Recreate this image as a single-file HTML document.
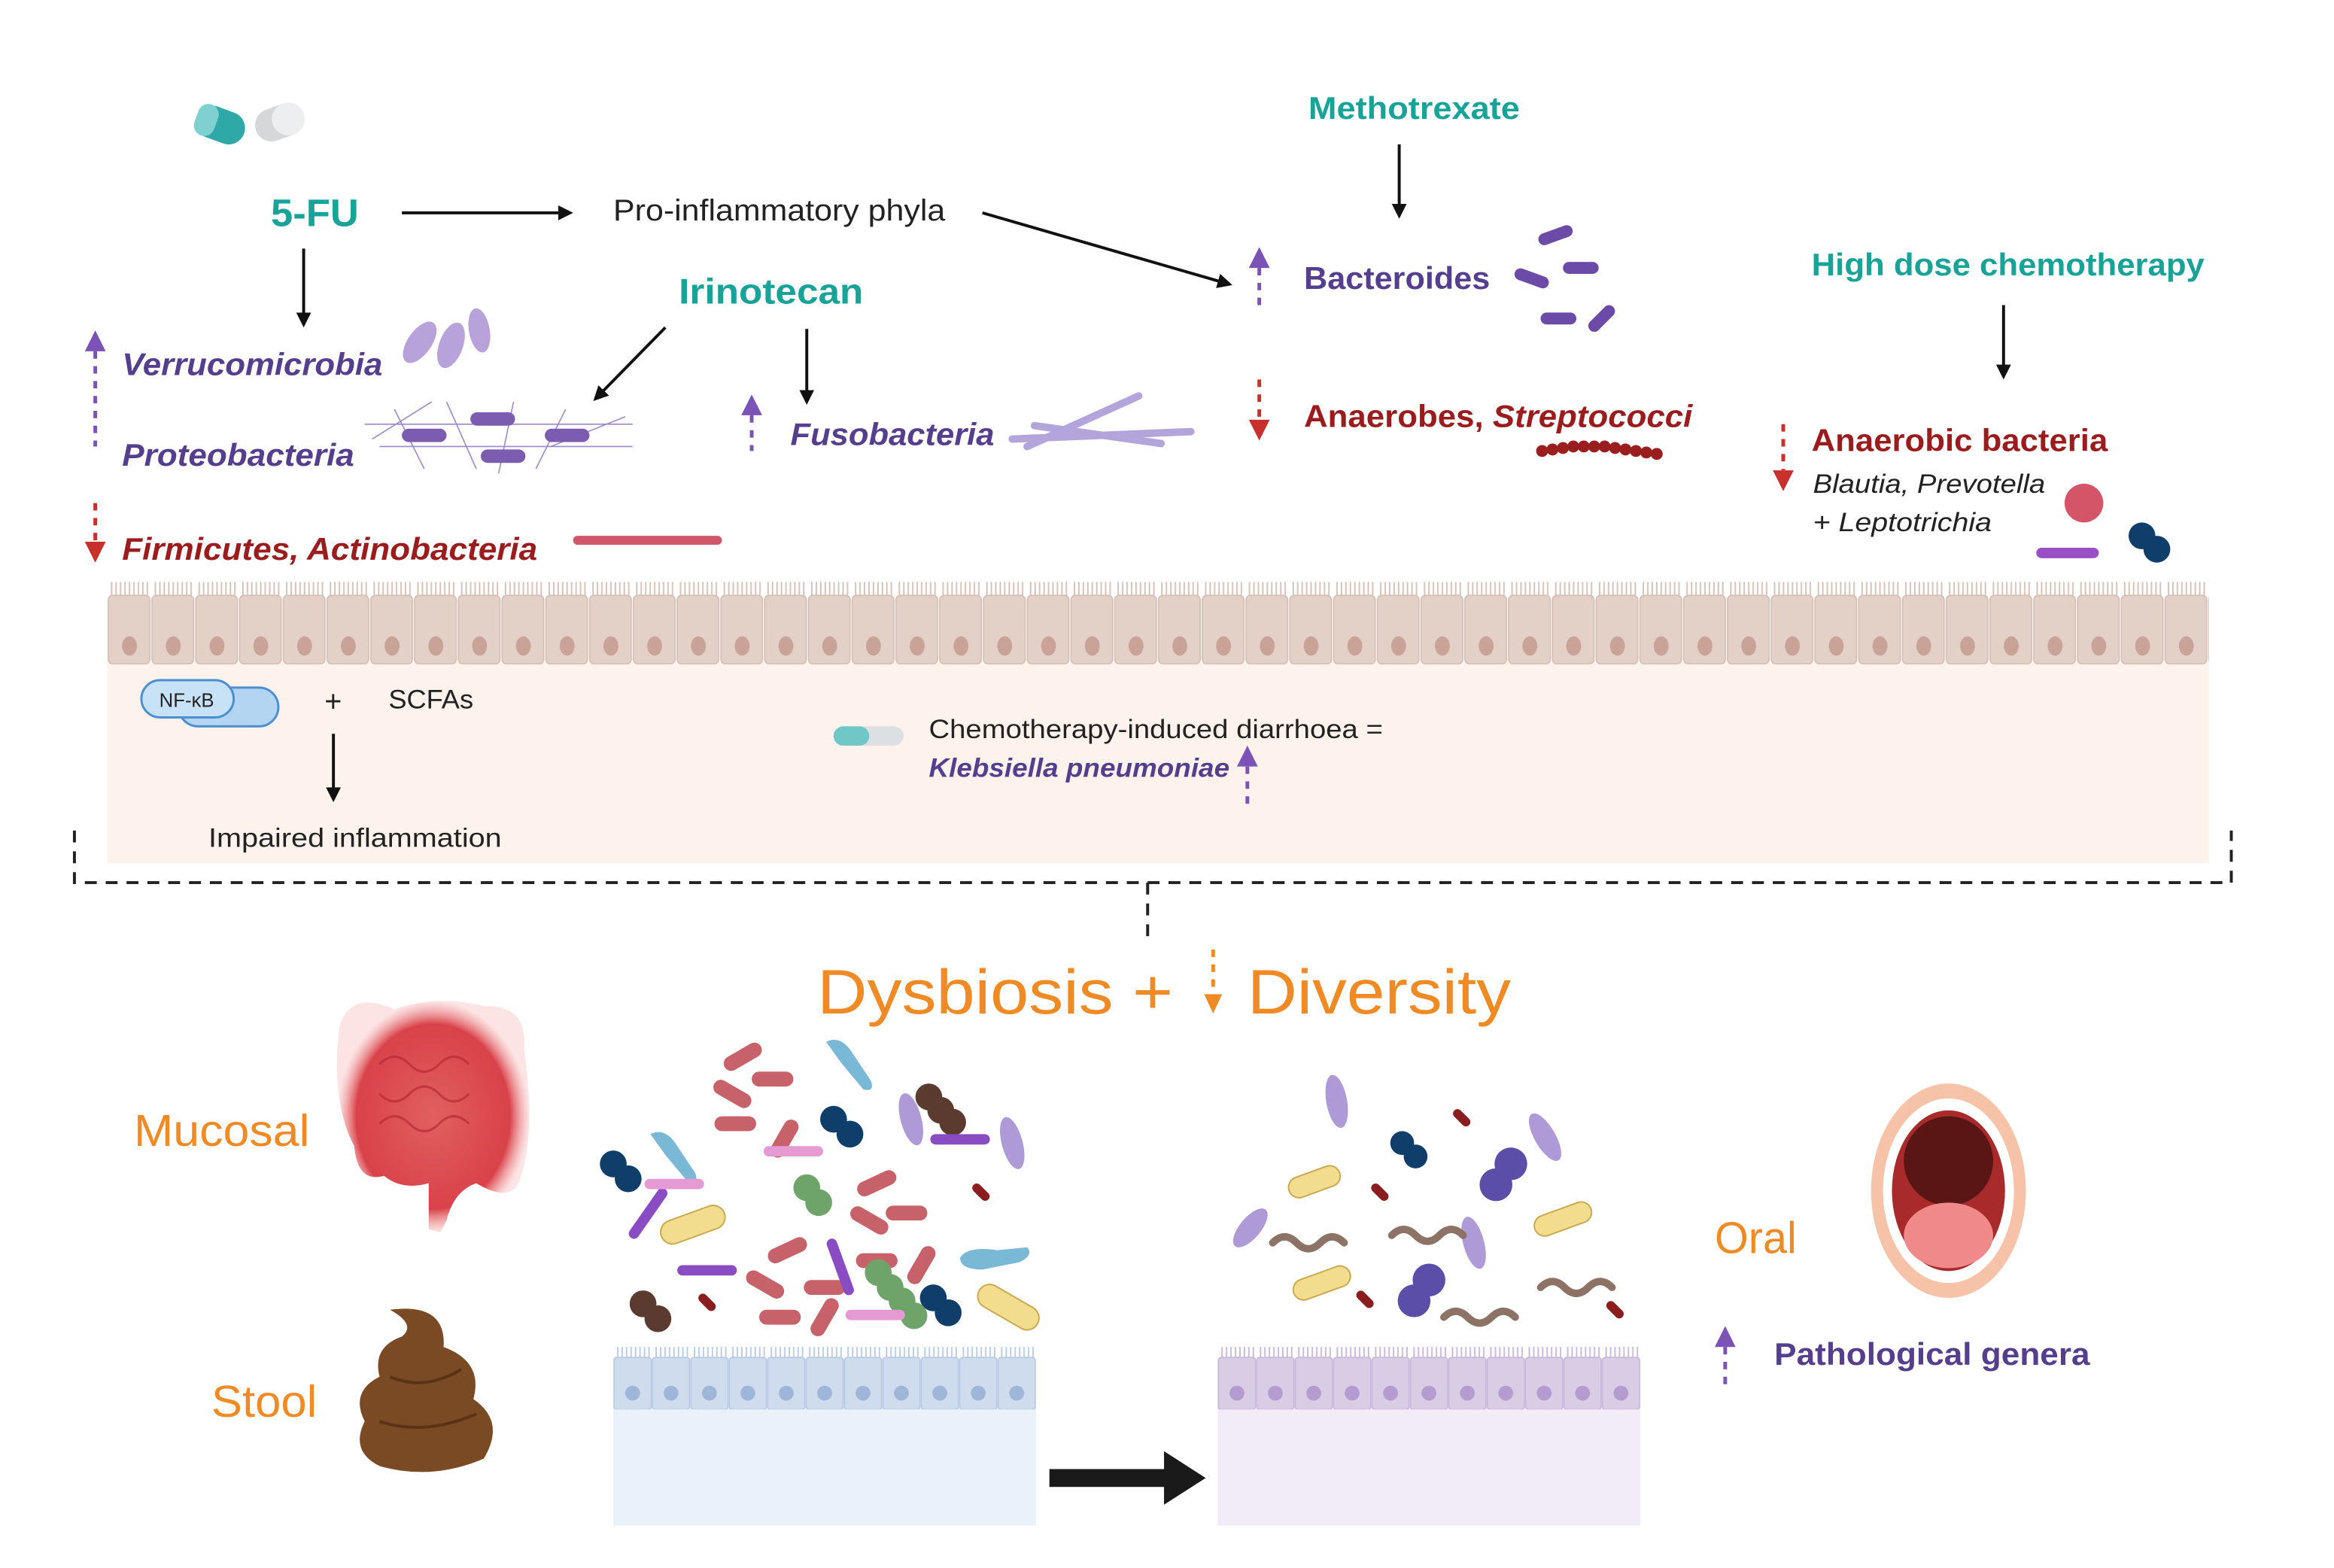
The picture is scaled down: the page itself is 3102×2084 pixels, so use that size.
<!DOCTYPE html>
<html><head><meta charset="utf-8"><style>
html,body{margin:0;padding:0;background:#fff;}
svg{display:block;}
text{font-family:"Liberation Sans",sans-serif;}
</style></head><body>
<svg width="3102" height="2084" viewBox="0 0 1568 1053.5" preserveAspectRatio="none" xmlns="http://www.w3.org/2000/svg">
<defs>
<marker id="ah" markerWidth="10" markerHeight="10" refX="8" refY="5" orient="auto" markerUnits="userSpaceOnUse"><path d="M0,0 L10,5 L0,10 z" fill="#111"/></marker>
<pattern id="cells" x="72" y="390" width="29.4" height="57" patternUnits="userSpaceOnUse">
<rect x="0.7" y="10" width="28" height="46" rx="3" fill="#e3d1c8" stroke="#d4bcb1" stroke-width="0.8"/>
<path d="M3,1 v9 M6,1 v9 M9,1 v9 M12,1 v9 M15,1 v9 M18,1 v9 M21,1 v9 M24,1 v9 M27,1 v9" stroke="#d7c2b8" stroke-width="1"/>
<ellipse cx="15" cy="44" rx="5" ry="6.5" fill="#c9a398"/>
</pattern>
<pattern id="cellsB" x="412" y="905" width="25.8" height="42" patternUnits="userSpaceOnUse">
<rect x="0.5" y="7" width="25" height="35" rx="2" fill="#cfdcee" stroke="#b6c8e2" stroke-width="0.8"/>
<path d="M3,0 v7 M6,0 v7 M9,0 v7 M12,0 v7 M15,0 v7 M18,0 v7 M21,0 v7 M24,0 v7" stroke="#bccde4" stroke-width="1"/>
<circle cx="13" cy="31" r="5" fill="#9fb6d8"/>
</pattern>
<pattern id="cellsP" x="818" y="905" width="25.8" height="42" patternUnits="userSpaceOnUse">
<rect x="0.5" y="7" width="25" height="35" rx="2" fill="#d9cde6" stroke="#c6b5da" stroke-width="0.8"/>
<path d="M3,0 v7 M6,0 v7 M9,0 v7 M12,0 v7 M15,0 v7 M18,0 v7 M21,0 v7 M24,0 v7" stroke="#cbbadd" stroke-width="1"/>
<circle cx="13" cy="31" r="5" fill="#b49cd0"/>
</pattern>
<radialGradient id="gutg"><stop offset="0" stop-color="#e06060"/><stop offset="0.8" stop-color="#d9424a"/><stop offset="1" stop-color="#f5a5a5" stop-opacity="0.3"/></radialGradient>
</defs>

<rect x="72" y="445" width="1412" height="135" fill="#fdf3ec"/>
<rect x="72" y="390" width="1412" height="57" fill="url(#cells)"/>

<path d="M50,558 V593 H1499 V558" fill="none" stroke="#222" stroke-width="2" stroke-dasharray="8,6"/>
<path d="M771,593 V632" stroke="#222" stroke-width="2" stroke-dasharray="8,6"/>

<g transform="translate(148,84) rotate(20)"><rect x="-17" y="-11" width="34" height="22" rx="11" fill="#2fa9a8"/><rect x="-17" y="-11" width="14" height="22" rx="7" fill="#7fd1cf"/></g>
<g transform="translate(188,82) rotate(-20)"><rect x="-17" y="-11" width="34" height="22" rx="11" fill="#d5d7d9"/><rect x="-5" y="-11" width="22" height="22" rx="11" fill="#eceef0"/></g>

<text x="182" y="152" font-size="26" font-weight="bold" fill="#17a398" textLength="59" lengthAdjust="spacingAndGlyphs">5-FU</text>
<line x1="270" y1="143" x2="383" y2="143" stroke="#111" stroke-width="2" marker-end="url(#ah)"/>
<text x="412" y="148" font-size="20" fill="#222" textLength="223" lengthAdjust="spacingAndGlyphs">Pro-inflammatory phyla</text>
<line x1="660" y1="143" x2="826" y2="191" stroke="#111" stroke-width="2" marker-end="url(#ah)"/>
<text x="879" y="80" font-size="21" font-weight="bold" fill="#17a398" textLength="142" lengthAdjust="spacingAndGlyphs">Methotrexate</text>
<line x1="940" y1="97" x2="940" y2="145" stroke="#111" stroke-width="2" marker-end="url(#ah)"/>
<text x="876" y="194" font-size="21" font-weight="bold" fill="#553e8e" textLength="125" lengthAdjust="spacingAndGlyphs">Bacteroides</text>
<text x="1217" y="185" font-size="21" font-weight="bold" fill="#17a398" textLength="264" lengthAdjust="spacingAndGlyphs">High dose chemotherapy</text>
<line x1="1346" y1="205" x2="1346" y2="253" stroke="#111" stroke-width="2" marker-end="url(#ah)"/>
<text x="1217" y="303" font-size="21" font-weight="bold" fill="#9b1c1c" textLength="199" lengthAdjust="spacingAndGlyphs">Anaerobic bacteria</text>
<text x="1218" y="331" font-size="18" font-style="italic" fill="#222" textLength="156" lengthAdjust="spacingAndGlyphs">Blautia, Prevotella</text>
<text x="1218" y="357" font-size="18" font-style="italic" fill="#222" textLength="120" lengthAdjust="spacingAndGlyphs">+ Leptotrichia</text>
<text x="456" y="204" font-size="24" font-weight="bold" fill="#17a398" textLength="124" lengthAdjust="spacingAndGlyphs">Irinotecan</text>
<line x1="447" y1="220" x2="400" y2="268" stroke="#111" stroke-width="2" marker-end="url(#ah)"/>
<line x1="542" y1="221" x2="542" y2="270" stroke="#111" stroke-width="2" marker-end="url(#ah)"/>
<text x="531" y="299" font-size="21" font-weight="bold" font-style="italic" fill="#553e8e" textLength="137" lengthAdjust="spacingAndGlyphs">Fusobacteria</text>
<text x="876" y="287" font-size="21" font-weight="bold" fill="#9b1c1c" textLength="261" lengthAdjust="spacingAndGlyphs">Anaerobes, <tspan font-style="italic">Streptococci</tspan></text>
<line x1="204" y1="167" x2="204" y2="218" stroke="#111" stroke-width="2" marker-end="url(#ah)"/>
<text x="82" y="252" font-size="21" font-weight="bold" font-style="italic" fill="#553e8e" textLength="175" lengthAdjust="spacingAndGlyphs">Verrucomicrobia</text>
<text x="82" y="313" font-size="21" font-weight="bold" font-style="italic" fill="#553e8e" textLength="156" lengthAdjust="spacingAndGlyphs">Proteobacteria</text>
<text x="82" y="376" font-size="21" font-weight="bold" font-style="italic" fill="#9b1c1c" textLength="279" lengthAdjust="spacingAndGlyphs">Firmicutes, Actinobacteria</text>

<g stroke-width="2.5" stroke-dasharray="5,5">
<line x1="64" y1="236" x2="64" y2="300" stroke="#7b52b5"/>
<line x1="64" y1="338" x2="64" y2="364" stroke="#c8302c"/>
<line x1="846" y1="180" x2="846" y2="205" stroke="#7b52b5"/>
<line x1="505" y1="279" x2="505" y2="303" stroke="#7b52b5"/>
<line x1="846" y1="255" x2="846" y2="282" stroke="#c8302c"/>
<line x1="1198" y1="285" x2="1198" y2="316" stroke="#c8302c"/>
<line x1="838" y1="515" x2="838" y2="541" stroke="#7b52b5"/>
<line x1="1159" y1="905" x2="1159" y2="930" stroke="#7b52b5"/>
<line x1="815" y1="638" x2="815" y2="668" stroke="#f08a24"/>
</g>
<path d="M57,236 L64,222 L71,236z M839,180 L846,166 L853,180z M498,279 L505,265 L512,279z M831,515 L838,501 L845,515z M1152,905 L1159,891 L1166,905z" fill="#7b52b5"/>
<path d="M57,364 L64,378 L71,364z M839,282 L846,296 L853,282z M1191,316 L1198,330 L1205,316z" fill="#c8302c"/>
<path d="M809,668 L815,681 L821,668z" fill="#f08a24"/>

<g fill="#b7a3d9"><ellipse cx="282" cy="230" rx="8" ry="16" transform="rotate(35 282 230)"/><ellipse cx="303" cy="232" rx="8" ry="16" transform="rotate(20 303 232)"/><ellipse cx="322" cy="222" rx="7" ry="15" transform="rotate(-10 322 222)"/></g>
<g stroke="#9c87c9" stroke-width="0.8" fill="none"><path d="M245,285 h180 M255,300 h170 M265,275 l20,40 M300,270 l20,45 M345,270 l-10,48 M380,275 l-20,40 M250,295 l40,-25 M370,300 l50,-20"/></g>
<g fill="#7b5cb0"><rect x="270" y="288" width="30" height="9" rx="4.5"/><rect x="316" y="277" width="30" height="9" rx="4.5"/><rect x="366" y="288" width="30" height="9" rx="4.5"/><rect x="323" y="302" width="30" height="9" rx="4.5"/></g>
<rect x="385" y="360" width="100" height="6" rx="3" fill="#d0576a"/>
<g stroke="#b3a5dc" stroke-width="5" stroke-linecap="round"><line x1="680" y1="295" x2="800" y2="290"/><line x1="690" y1="300" x2="765" y2="266"/><line x1="695" y1="286" x2="780" y2="298"/></g>
<g fill="#6c4aa8"><rect x="1033" y="154" width="24" height="8" rx="4" transform="rotate(-20 1045 158)"/><rect x="1017" y="183" width="24" height="8" rx="4" transform="rotate(20 1029 187)"/><rect x="1050" y="176" width="24" height="8" rx="4"/><rect x="1035" y="210" width="24" height="8" rx="4"/><rect x="1065" y="210" width="22" height="8" rx="4" transform="rotate(-45 1076 214)"/></g>
<g fill="#9b1e1e"><circle cx="1036" cy="303" r="4"/><circle cx="1043" cy="302" r="4"/><circle cx="1050" cy="301" r="4"/><circle cx="1057" cy="300" r="4"/><circle cx="1064" cy="300" r="4"/><circle cx="1071" cy="300" r="4"/><circle cx="1078" cy="300" r="4"/><circle cx="1085" cy="301" r="4"/><circle cx="1092" cy="302" r="4"/><circle cx="1099" cy="303" r="4"/><circle cx="1106" cy="304" r="4"/><circle cx="1113" cy="305" r="4"/></g>
<circle cx="1400" cy="338" r="13" fill="#d45468"/>
<rect x="1368" y="368" width="42" height="7" rx="3.5" fill="#9a4fc4"/>
<circle cx="1439" cy="360" r="9" fill="#0f3e6a"/><circle cx="1449" cy="369" r="9" fill="#0f3e6a"/>

<g><rect x="120" y="462" width="67" height="26" rx="13" fill="#b3d5f2" stroke="#4b8fd0" stroke-width="1.5"/><rect x="95" y="457" width="62" height="25" rx="12.5" fill="#c7e1f7" stroke="#4b8fd0" stroke-width="1.5"/>
<text x="107" y="475" font-size="13" fill="#222">NF-κB</text></g>
<text x="218" y="478" font-size="20" fill="#222">+</text>
<text x="261" y="476" font-size="18" fill="#222" textLength="57" lengthAdjust="spacingAndGlyphs">SCFAs</text>
<line x1="224" y1="493" x2="224" y2="537" stroke="#111" stroke-width="2" marker-end="url(#ah)"/>
<text x="140" y="569" font-size="18" fill="#222" textLength="197" lengthAdjust="spacingAndGlyphs">Impaired inflammation</text>
<rect x="560" y="488" width="47" height="13" rx="6.5" fill="#dde0e2"/><rect x="560" y="488" width="24" height="13" rx="6.5" fill="#6fc8c7"/>
<text x="624" y="496" font-size="18" fill="#222" textLength="305" lengthAdjust="spacingAndGlyphs">Chemotherapy-induced diarrhoea =</text>
<text x="624" y="522" font-size="18" font-weight="bold" font-style="italic" fill="#553e8e" textLength="202" lengthAdjust="spacingAndGlyphs">Klebsiella pneumoniae</text>

<text x="549" y="681" font-size="42" fill="#f08a24" textLength="239" lengthAdjust="spacingAndGlyphs">Dysbiosis +</text>
<text x="838" y="681" font-size="42" fill="#f08a24" textLength="177" lengthAdjust="spacingAndGlyphs">Diversity</text>
<text x="90" y="770" font-size="30" fill="#f08a24" textLength="118" lengthAdjust="spacingAndGlyphs">Mucosal</text>
<text x="142" y="952" font-size="30" fill="#f08a24" textLength="71" lengthAdjust="spacingAndGlyphs">Stool</text>
<text x="1152" y="842" font-size="30" fill="#f08a24" textLength="55" lengthAdjust="spacingAndGlyphs">Oral</text>
<text x="1192" y="917" font-size="21" font-weight="bold" fill="#553e8e" textLength="212" lengthAdjust="spacingAndGlyphs">Pathological genera</text>

<g fill="url(#gutg)">
<path d="M228,690 Q235,665 265,678 Q295,668 325,676 Q355,675 352,705 Q360,760 350,790 Q345,810 320,795 Q305,800 300,820 L296,828 L288,826 L288,795 Q270,800 258,790 Q240,795 238,770 Q222,740 228,690z"/>
</g>
<g fill="none" stroke="#b82a34" stroke-width="1.5" opacity="0.7"><path d="M255,715 q10,-10 20,0 t20,0 t20,0 M255,735 q10,10 20,0 t20,0 t20,0 M255,755 q10,-10 20,0 t20,0 t20,0"/></g>

<path d="M262,880 Q300,875 298,905 Q325,915 318,940 Q340,955 325,980 Q290,995 255,985 Q235,975 245,955 Q235,935 255,925 Q250,905 270,898 Q280,890 262,880z" fill="#7a4a25"/>
<path d="M255,955 Q285,965 320,950 M262,925 Q285,935 310,920" stroke="#5a3316" stroke-width="2" fill="none"/>

<ellipse cx="1309" cy="800" rx="52" ry="72" fill="#f6c2a8"/>
<ellipse cx="1309" cy="800" rx="44" ry="62" fill="#fff"/>
<ellipse cx="1309" cy="800" rx="38" ry="54" fill="#a82a2a"/>
<ellipse cx="1309" cy="780" rx="30" ry="30" fill="#5a1515"/>
<ellipse cx="1309" cy="830" rx="30" ry="22" fill="#f08a8a"/>

<rect x="412" y="945" width="284" height="80" fill="#e9f1fb"/>
<rect x="412" y="905" width="284" height="42" fill="url(#cellsB)"/>
<rect x="818" y="945" width="284" height="80" fill="#f1ecf8"/>
<rect x="818" y="905" width="284" height="42" fill="url(#cellsP)"/>
<path d="M705,987 H782 V975 L810,993 L782,1011 V999 H705z" fill="#1a1a1a"/>

<g fill="#c8626a">
<rect x="485" y="705" width="28" height="10" rx="5" transform="rotate(-30 499 710)"/>
<rect x="505" y="720" width="28" height="10" rx="5"/>
<rect x="478" y="730" width="28" height="10" rx="5" transform="rotate(30 492 735)"/>
<rect x="480" y="750" width="28" height="10" rx="5"/>
<rect x="513" y="760" width="28" height="10" rx="5" transform="rotate(-60 527 765)"/>
<rect x="575" y="790" width="28" height="10" rx="5" transform="rotate(-25 589 795)"/>
<rect x="570" y="815" width="28" height="10" rx="5" transform="rotate(30 584 820)"/>
<rect x="595" y="810" width="28" height="10" rx="5"/>
<rect x="575" y="842" width="28" height="10" rx="5"/>
<rect x="605" y="845" width="28" height="10" rx="5" transform="rotate(-60 619 850)"/>
<rect x="515" y="835" width="28" height="10" rx="5" transform="rotate(-25 529 840)"/>
<rect x="540" y="860" width="28" height="10" rx="5"/>
<rect x="500" y="858" width="28" height="10" rx="5" transform="rotate(30 514 863)"/>
<rect x="510" y="880" width="28" height="10" rx="5"/>
<rect x="540" y="880" width="28" height="10" rx="5" transform="rotate(-60 554 885)"/>
</g>
<g fill="#7ab9d6"><path d="M555,700 q10,-5 18,8 l12,18 q3,8 -5,6 l-15,-18z"/><path d="M437,762 q10,-5 18,8 l12,18 q3,8 -5,6 l-15,-18z"/><path d="M645,845 q5,-8 25,-5 l20,-2 q5,5 -5,10 l-25,5 q-15,0 -15,-8z"/></g>
<g fill="#0f3e6a"><circle cx="412" cy="782" r="9"/><circle cx="422" cy="792" r="9"/><circle cx="560" cy="752" r="9"/><circle cx="571" cy="762" r="9"/><circle cx="627" cy="872" r="9"/><circle cx="637" cy="882" r="9"/></g>
<g fill="#5b3a2f"><circle cx="624" cy="737" r="9"/><circle cx="632" cy="746" r="9"/><circle cx="640" cy="754" r="9"/><circle cx="432" cy="876" r="9"/><circle cx="442" cy="886" r="9"/></g>
<g fill="#6ea36a"><circle cx="542" cy="798" r="9"/><circle cx="550" cy="808" r="9"/><circle cx="590" cy="855" r="9"/><circle cx="598" cy="865" r="9"/><circle cx="606" cy="874" r="9"/><circle cx="614" cy="884" r="9"/></g>
<g fill="#ae9ad6"><ellipse cx="612" cy="752" rx="7" ry="18" transform="rotate(-15 612 752)"/><ellipse cx="680" cy="768" rx="7" ry="18" transform="rotate(-15 680 768)"/></g>
<g fill="#8a4cc2"><rect x="625" y="762" width="40" height="7" rx="3.5"/><rect x="415" y="812" width="40" height="7" rx="3.5" transform="rotate(-55 435 815)"/><rect x="455" y="850" width="40" height="7" rx="3.5"/><rect x="545" y="848" width="40" height="7" rx="3.5" transform="rotate(70 565 851)"/></g>
<g fill="#e59ad3"><rect x="513" y="770" width="40" height="7" rx="3.5"/><rect x="433" y="792" width="40" height="7" rx="3.5"/><rect x="568" y="880" width="40" height="7" rx="3.5"/></g>
<g fill="#f2dc8d" stroke="#c9a84f" stroke-width="1"><rect x="443" y="815" width="45" height="16" rx="8" transform="rotate(-20 465 823)"/><rect x="655" y="870" width="45" height="16" rx="8" transform="rotate(30 677 878)"/></g>
<g fill="#8a1e1e"><rect x="652" y="798" width="14" height="6" rx="3" transform="rotate(45 659 801)"/><rect x="468" y="872" width="14" height="6" rx="3" transform="rotate(45 475 875)"/></g>

<g fill="#ae9ad6"><ellipse cx="898" cy="740" rx="7" ry="18" transform="rotate(-10 898 740)"/><ellipse cx="1038" cy="764" rx="7" ry="18" transform="rotate(-30 1038 764)"/><ellipse cx="840" cy="825" rx="7" ry="16" transform="rotate(40 840 825)"/><ellipse cx="990" cy="835" rx="7" ry="18" transform="rotate(-15 990 835)"/></g>
<g fill="#0f3e6a"><circle cx="942" cy="768" r="8"/><circle cx="951" cy="777" r="8"/></g>
<g fill="#5a4ea8"><circle cx="1015" cy="782" r="11"/><circle cx="1005" cy="796" r="11"/><circle cx="960" cy="860" r="11"/><circle cx="950" cy="874" r="11"/></g>
<g fill="#f2dc8d" stroke="#c9a84f" stroke-width="1"><rect x="865" y="787" width="36" height="14" rx="7" transform="rotate(-20 883 794)"/><rect x="1030" y="812" width="40" height="14" rx="7" transform="rotate(-20 1050 819)"/><rect x="868" y="855" width="40" height="14" rx="7" transform="rotate(-20 888 862)"/></g>
<g fill="none" stroke="#8c7366" stroke-width="5" stroke-linecap="round"><path d="M855,835 q8,-8 16,0 t16,0 t16,0"/><path d="M935,830 q8,-8 16,0 t16,0 t16,0"/><path d="M970,885 q8,-8 16,0 t16,0 t16,0"/><path d="M1035,865 q8,-8 16,0 t16,0 t16,0"/></g>
<g fill="#8a1e1e"><rect x="975" y="748" width="14" height="6" rx="3" transform="rotate(45 982 751)"/><rect x="920" y="798" width="14" height="6" rx="3" transform="rotate(45 927 801)"/><rect x="910" y="870" width="14" height="6" rx="3" transform="rotate(45 917 873)"/><rect x="1078" y="877" width="14" height="6" rx="3" transform="rotate(45 1085 880)"/></g>
</svg>
</body></html>
